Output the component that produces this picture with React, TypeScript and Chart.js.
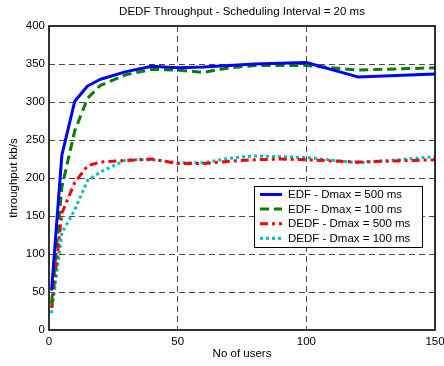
import React, { useEffect, useRef } from "react";
import { Chart, registerables } from "chart.js";

Chart.register(...registerables);

// ---- data ----
const users = [1, 5, 10, 15, 20, 30, 40, 50, 60, 70, 80, 90, 100, 120, 150];
const edf500 = [52, 230, 301, 321, 330, 340, 347, 345, 346, 348, 350, 351, 352, 333, 337];
const edf100 = [35, 188, 262, 305, 322, 336, 343, 342, 339, 345, 348, 348, 348, 342, 345];
const dedf500 = [29, 154, 194, 216, 221, 223, 225, 219, 219, 222, 224, 225, 224, 221, 224];
const dedf100 = [22, 128, 158, 197, 208, 224, 224, 220, 220, 226, 229, 228, 227, 220, 228];
const seriesLabels = [
  "EDF - Dmax = 500 ms",
  "EDF - Dmax = 100 ms",
  "DEDF - Dmax = 500 ms",
  "DEDF - Dmax = 100 ms",
];
const xTicks = [0, 50, 100, 150];
const yTicks = [0, 50, 100, 150, 200, 250, 300, 350, 400];
const titleText = "DEDF Throughput - Scheduling Interval = 20 ms";
const xTitle = "No of users";
const yTitle = "throughput kb/s";

const FONT = "'Liberation Sans', Arial, Helvetica, sans-serif";
const FS = 11.5;

const toPoints = (ys: number[]) => users.map((x, i) => ({ x, y: ys[i] }));

const decorPlugin = {
  id: "decor",
  afterDatasetsDraw(chart: any) {
    const { ctx, chartArea: a } = chart;
    ctx.save();
    // axes box
    ctx.setLineDash([]);
    ctx.strokeStyle = "#000";
    ctx.lineWidth = 1.6;
    ctx.strokeRect(a.left, a.top, a.right - a.left, a.bottom - a.top);

    // legend
    const bx = a.left + 205;
    const by = a.top + 160;
    const bw = 168;
    const bh = 61;
    ctx.fillStyle = "#fff";
    ctx.fillRect(bx, by, bw, bh);
    ctx.lineWidth = 1;
    ctx.strokeStyle = "#000";
    ctx.strokeRect(bx + 0.5, by + 0.5, bw, bh);
    ctx.font = `${FS}px ${FONT}`;
    ctx.textBaseline = "middle";
    ctx.textAlign = "left";
    chart.data.datasets.forEach((ds: any, i: number) => {
      const y = by + 8.5 + i * 14.6;
      ctx.beginPath();
      ctx.strokeStyle = ds.borderColor;
      ctx.lineWidth = ds.borderWidth;
      ctx.lineCap = "butt";
      ctx.setLineDash(ds.borderDash || []);
      ctx.moveTo(bx + 6, y);
      ctx.lineTo(bx + 28, y);
      ctx.stroke();
      ctx.setLineDash([]);
      ctx.fillStyle = "#000";
      ctx.fillText(ds.label, bx + 34, y + 0.5);
    });

    // title
    ctx.font = `${FS}px ${FONT}`;
    ctx.textAlign = "center";
    ctx.textBaseline = "middle";
    ctx.fillStyle = "#000";
    ctx.fillText(titleText, (a.left + a.right) / 2, 12);
    ctx.restore();
  },
};

export default function App() {
  const ref = useRef<HTMLCanvasElement | null>(null);

  useEffect(() => {
    if (!ref.current) return;
    const gridColor = (ctx: any) => {
      const v = ctx.tick ? ctx.tick.value : null;
      const s = ctx.scale;
      if (v === s.min || v === s.max) return "rgba(0,0,0,0)";
      return "#4a4a4a";
    };
    const chart = new Chart(ref.current, {
      type: "line",
      data: {
        datasets: [
          {
            label: seriesLabels[0],
            data: toPoints(edf500),
            borderColor: "#0000ff",
            borderWidth: 3,
            borderDash: [],
          },
          {
            label: seriesLabels[1],
            data: toPoints(edf100),
            borderColor: "#008000",
            borderWidth: 3,
            borderDash: [9, 5],
          },
          {
            label: seriesLabels[2],
            data: toPoints(dedf500),
            borderColor: "#ff0000",
            borderWidth: 3,
            borderDash: [8, 4, 3, 4],
          },
          {
            label: seriesLabels[3],
            data: toPoints(dedf100),
            borderColor: "#00bfbf",
            borderWidth: 3,
            borderDash: [3, 3],
          },
        ] as any,
      },
      options: {
        responsive: false,
        animation: false,
        events: [],
        layout: { padding: { left: 0, right: 9, top: 26, bottom: 0 } },
        elements: {
          point: { radius: 0 },
          line: { tension: 0, borderCapStyle: "butt", borderJoinStyle: "round" },
        },
        plugins: {
          legend: { display: false },
          title: { display: false },
          tooltip: { enabled: false },
        },
        scales: {
          x: {
            type: "linear",
            min: 0,
            max: 150,
            afterBuildTicks: (s: any) => {
              s.ticks = xTicks.map((v) => ({ value: v }));
            },
            afterFit: (s: any) => {
              s.height = 36;
              s.paddingLeft = 0;
              s.paddingRight = 0;
            },
            grid: {
              color: gridColor,
              lineWidth: 1,
              drawTicks: false,
              borderDash: [6, 4],
            } as any,
            border: { display: false, dash: [6, 4] },
            ticks: {
              padding: 5,
              color: "#000",
              font: { family: FONT, size: FS },
              maxRotation: 0,
            },
            title: {
              display: true,
              text: xTitle,
              color: "#000",
              font: { family: FONT, size: FS },
              padding: { top: 0, bottom: 5 },
            },
          },
          y: {
            type: "linear",
            min: 0,
            max: 400,
            afterBuildTicks: (s: any) => {
              s.ticks = yTicks.map((v) => ({ value: v }));
            },
            afterFit: (s: any) => {
              s.width = 49;
              s.paddingTop = 0;
              s.paddingBottom = 0;
            },
            grid: {
              color: gridColor,
              lineWidth: 1,
              drawTicks: false,
              borderDash: [6, 4],
            } as any,
            border: { display: false, dash: [6, 4] },
            ticks: {
              padding: 4,
              color: "#000",
              font: { family: FONT, size: FS },
            },
            title: {
              display: true,
              text: yTitle,
              color: "#000",
              font: { family: FONT, size: FS },
              padding: { top: 7, bottom: 0 },
            },
          },
        },
      } as any,
      plugins: [decorPlugin],
    });
    return () => chart.destroy();
  }, []);

  return (
    <div style={{ position: "absolute", left: 0, top: 0, width: 444, height: 366, background: "#fff" }}>
      <canvas ref={ref} width={444} height={366} style={{ display: "block" }} />
    </div>
  );
}
